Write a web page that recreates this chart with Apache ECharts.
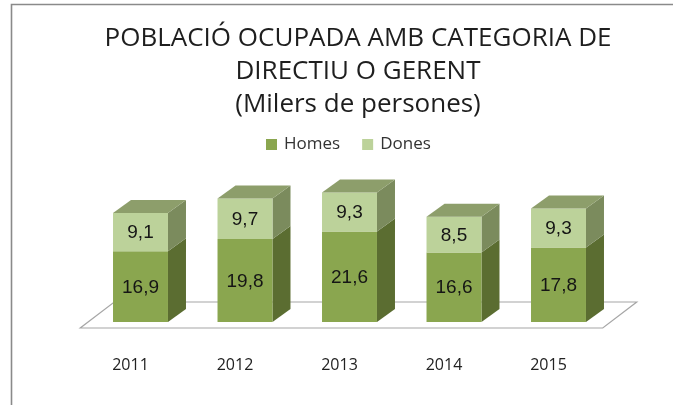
<!DOCTYPE html>
<html>
<head>
<meta charset="utf-8">
<script src="https://cdn.jsdelivr.net/npm/echarts@6/dist/echarts.min.js"></script>
<style>
  html, body { margin: 0; padding: 0; background: #fff; }
  #chart { width: 673px; height: 405px; }
</style>
</head>
<body>
<div id="chart"></div>
<script>
const years = ["2011", "2012", "2013", "2014", "2015"];
const homes = [16.9, 19.8, 21.6, 16.6, 17.8];
const dones = [9.1, 9.7, 9.3, 8.5, 9.3];

// 3d look
const DX = 18, DY = -13;
const fmt = (v) => v.toFixed(1).replace(".", ",");

const colors = {
  Homes: { front: "#8aa64f", side: "#5b6d31", top: "#8d9e6b" },
  Dones: { front: "#bcd29a", side: "#7b8b5d", top: "#8d9e6b" },
};

function makeBar(name, isTop) {
  const c = colors[name];
  return function (params, api) {
    const idx = api.value(0);
    const base = api.value(1);
    const val = api.value(2);
    const b = api.coord([idx, base]);
    const t = api.coord([idx, base + val]);
    const w = api.size([1, 0])[0] * 0.526;
    const x0 = b[0] - w / 2, x1 = b[0] + w / 2;
    const children = [
      {
        type: "polygon",
        shape: { points: [[x1, b[1]], [x1 + DX, b[1] + DY], [x1 + DX, t[1] + DY], [x1, t[1]]] },
        style: { fill: c.side },
      },
      {
        type: "rect",
        shape: { x: x0, y: t[1], width: w, height: b[1] - t[1] },
        style: { fill: c.front },
      },
    ];
    if (isTop) {
      children.push({
        type: "polygon",
        shape: { points: [[x0, t[1]], [x1, t[1]], [x1 + DX, t[1] + DY], [x0 + DX, t[1] + DY]] },
        style: { fill: c.top },
      });
    }
    children.push({
      type: "text",
      style: {
        x: b[0], y: (b[1] + t[1]) / 2 + 1,
        text: fmt(val),
        align: "center", verticalAlign: "middle",
        font: "19px 'Liberation Sans', Arial, sans-serif",
        fill: "#151515",
      },
    });
    return { type: "group", children: children };
  };
}

function renderFloor(params, api) {
  const band = api.size([1, 0])[0];
  const a = api.coord([0, 0]);
  const z = api.coord([years.length - 1, 0]);
  const left = a[0] - band / 2, right = z[0] + band / 2, y = a[1];
  return {
    type: "polygon",
    shape: { points: [[left - 8, y + 6], [right - 8, y + 6], [right + 26, y - 20], [left + 26, y - 20]] },
    style: { fill: "#fff", stroke: "#a6a6a6", lineWidth: 1.2 },
  };
}

const chart = echarts.init(document.getElementById("chart"));
chart.setOption({
  animation: false,
  backgroundColor: "#fff",
  title: {
    text: "POBLACIÓ OCUPADA AMB CATEGORIA DE\nDIRECTIU O GERENT\n(Milers de persones)",
    left: 353,
    top: 17,
    textAlign: "center",
    textStyle: {
      fontFamily: "'Open Sans', sans-serif",
      fontWeight: "normal",
      fontSize: 26,
      lineHeight: 33,
      color: "#1e1e1e",
    },
  },
  legend: {
    data: ["Homes", "Dones"],
    left: 261,
    top: 131,
    icon: "rect",
    itemWidth: 11,
    itemHeight: 11,
    itemGap: 22,
    textStyle: {
      fontFamily: "'Open Sans', sans-serif",
      fontSize: 17,
      color: "#333",
      padding: [0, 0, 0, 2],
    },
  },
  graphic: [
    {
      type: "polyline",
      shape: { points: [[11.5, 405], [11.5, 4.5], [673, 4.5]] },
      style: { stroke: "#8a8a8a", lineWidth: 1.6, fill: null },
      z: 100,
    },
  ],
  grid: { left: 88.25, right: 62.25, top: 154.4, bottom: 83 },
  xAxis: {
    type: "category",
    data: years,
    axisLine: { show: false },
    axisTick: { show: false },
    axisLabel: {
      margin: 35,
      padding: [0, 20, 0, 0],
      fontFamily: "'Open Sans', sans-serif",
      fontSize: 16,
      color: "#222",
    },
  },
  yAxis: { type: "value", min: 0, max: 40, show: false, splitLine: { show: false } },
  series: [
    {
      type: "custom",
      name: "floor",
      renderItem: renderFloor,
      data: [[0, 0, 0]],
      silent: true,
      z: 1,
    },
    {
      type: "custom",
      name: "Homes",
      itemStyle: { color: colors.Homes.front },
      renderItem: makeBar("Homes", false),
      encode: { x: 0, y: 2 },
      data: homes.map((v, i) => [i, 0, v]),
      z: 2,
    },
    {
      type: "custom",
      name: "Dones",
      itemStyle: { color: colors.Dones.front },
      renderItem: makeBar("Dones", true),
      encode: { x: 0, y: 2 },
      data: dones.map((v, i) => [i, homes[i], v]),
      z: 3,
    },
  ],
});
</script>
</body>
</html>
